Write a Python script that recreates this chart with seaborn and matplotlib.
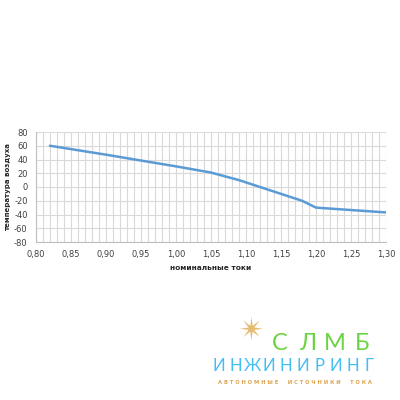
import numpy as np
import pandas as pd
import matplotlib
matplotlib.use("Agg")
import matplotlib.pyplot as plt
from matplotlib.ticker import MultipleLocator, FuncFormatter
import seaborn as sns

# ── Data ────────────────────────────────────────────────────────────────────
nominal_current = [0.82, 0.90, 1.00, 1.05, 1.09, 1.18, 1.20, 1.30]
air_temperature = [60, 47, 30, 21, 10, -20, -30, -37]

x_ticks = [0.80, 0.85, 0.90, 0.95, 1.00, 1.05, 1.10, 1.15, 1.20, 1.25, 1.30]
y_ticks = [80, 60, 40, 20, 0, -20, -40, -60, -80]

x_label = "номинальные токи"
y_label = "температура воздуха"

logo_main = "СЛМБ"
logo_sub = "ИНЖИНИРИНГ"
logo_tag = "АВТОНОМНЫЕ ИСТОЧНИКИ ТОКА"

df = pd.DataFrame({"current": nominal_current, "temp": air_temperature})

sns.set_style("white")
plt.rcParams["font.family"] = ["DejaVu Sans"]
plt.rcParams["axes.unicode_minus"] = False

fig = plt.figure(figsize=(4, 4), dpi=100)
ax = fig.add_axes([0.09, 0.395, 0.875, 0.275])

sns.lineplot(data=df, x="current", y="temp", ax=ax, color="#5B9BD5",
             linewidth=1.8, zorder=3)

ax.set_xlim(0.80, 1.30)
ax.set_ylim(-80, 80)
ax.set_xticks(x_ticks)
ax.set_yticks(y_ticks)
ax.xaxis.set_minor_locator(MultipleLocator(0.01))
ax.xaxis.set_major_formatter(FuncFormatter(lambda v, p: f"{v:.2f}".replace(".", ",")))
ax.yaxis.set_major_formatter(FuncFormatter(lambda v, p: f"{v:.0f}"))

ax.grid(which="both", axis="x", color="#D9D9D9", linewidth=0.8)
ax.grid(which="major", axis="y", color="#D9D9D9", linewidth=0.8)
ax.set_axisbelow(True)

for side in ["top", "right"]:
    ax.spines[side].set_visible(False)
for side in ["left", "bottom"]:
    ax.spines[side].set_color("#BFBFBF")
    ax.spines[side].set_linewidth(0.8)

ax.tick_params(axis="both", which="major", labelsize=6, labelcolor="#404040",
               length=3, width=0.8, direction="out", pad=3, color="#BFBFBF")
ax.tick_params(axis="x", which="minor", length=0)

ax.set_xlabel(x_label, fontsize=5.3, fontweight="bold", color="#262626", labelpad=4)
ax.set_ylabel(y_label, fontsize=5.0, fontweight="bold", color="#262626")
ax.yaxis.set_label_coords(-0.072, 0.5)

# ── Logo ────────────────────────────────────────────────────────────────────
fig.text(251 / 400, 1 - 331 / 400, "✴", fontsize=22, color="#E6BC72",
         ha="center", va="center")

main_x = np.linspace(280, 362, len(logo_main)) / 400
for ch, xp in zip(logo_main, main_x):
    fig.text(xp, 1 - 344 / 400, ch, fontsize=17, color="#6CD444", ha="center",
             va="center", family=["Lato", "DejaVu Sans"])

sub_x = np.linspace(219, 369, len(logo_sub)) / 400
for ch, xp in zip(logo_sub, sub_x):
    fig.text(xp, 1 - 366 / 400, ch, fontsize=12, color="#45BDF5", ha="center",
             va="center", family=["Lato", "DejaVu Sans"])

fig.text(295 / 400, 1 - 382 / 400,
         "  ".join(logo_tag.split(" ")).replace("", " ").strip(),
         fontsize=3.8, color="#DDA550", ha="center", va="center",
         fontweight="bold")

fig.savefig("out.png", dpi=100)
plt.close(fig)
